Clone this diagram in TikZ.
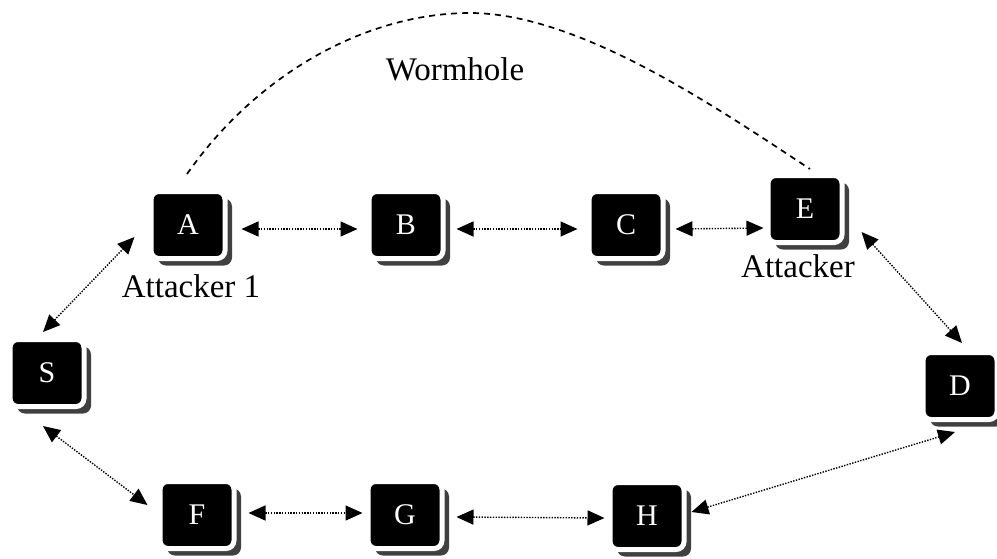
\documentclass[tikz,border=0pt]{standalone}
\usepackage{fontspec}
\setmainfont{Liberation Serif}
\usetikzlibrary{arrows.meta,calc,shadows}
\begin{document}
\begin{tikzpicture}[x=1pt,y=1pt,
  netnode/.style={fill=black,draw=white,line width=5pt,rounded corners=8pt,
    minimum width=74pt,minimum height=67pt,inner sep=0pt,
    text=white,font=\fontsize{30}{32}\selectfont,
    general shadow={shadow xshift=7pt,shadow yshift=-7pt,fill=black!75}},
  link/.style={dash pattern=on 1.4pt off 1.4pt,line width=1.4pt,
    {Triangle[length=17pt,width=15pt]}-{Triangle[length=17pt,width=15pt]}},
  lbl/.style={font=\fontsize{33}{36}\selectfont,anchor=base,inner sep=0pt}]
\useasboundingbox (0,0) rectangle (997,-558);
\node[netnode] (A) at (188,-225) {A};
\node[netnode] (B) at (406,-225) {B};
\node[netnode] (C) at (626,-225) {C};
\node[netnode] (E) at (805,-209) {E};
\node[netnode] (S) at (47,-373) {S};
\node[netnode] (D) at (960,-386) {D};
\node[netnode] (F) at (197,-515) {F};
\node[netnode] (G) at (405,-515) {G};
\node[netnode] (H) at (647,-516) {H};
\node[lbl] (l1) at (191,-297) {Attacker 1};
\node[lbl] (l2) at (798,-277) {Attacker};
\node[lbl] (l3) at (455,-80) {Wormhole};
% connectors
\draw[link] ($(A.east)+(14,-4)$) -- ($(B.west)+(-9,-4)$);
\draw[link] ($(B.east)+(11,-4)$) -- ($(C.west)+(-9,-4)$);
\draw[link] ($(C.east)+(10,-4)$) -- ($(E.west)+(-2,-19)$);
\draw[link] ($(E.east)+(17,-23)$) -- ($(D.north)+(2,7)$);
\draw[link] ($(S.north)+(-4,5)$) -- ($(A.west)+(-14,-12)$);
\draw[link] ($(S.south)+(-4,-17)$) -- ($(F.west)+(-10,10)$);
\draw[link] ($(F.east)+(12,2)$) -- ($(G.west)+(-3,2)$);
\draw[link] ($(G.east)+(12,-2)$) -- ($(H.west)+(-3,-2)$);
\draw[link] ($(H.east)+(5,4)$) -- ($(D.south)+(-5,-10)$);
% wormhole
\draw[dash pattern=on 6pt off 5pt,line width=1.7pt]
  ($(A.north)+(-1,15)$) .. controls (260,-70) and (370,-13) .. (470,-13)
  .. controls (580,-13) and (720,-110) .. ($(E.north)+(5,4)$);
\end{tikzpicture}
\end{document}
